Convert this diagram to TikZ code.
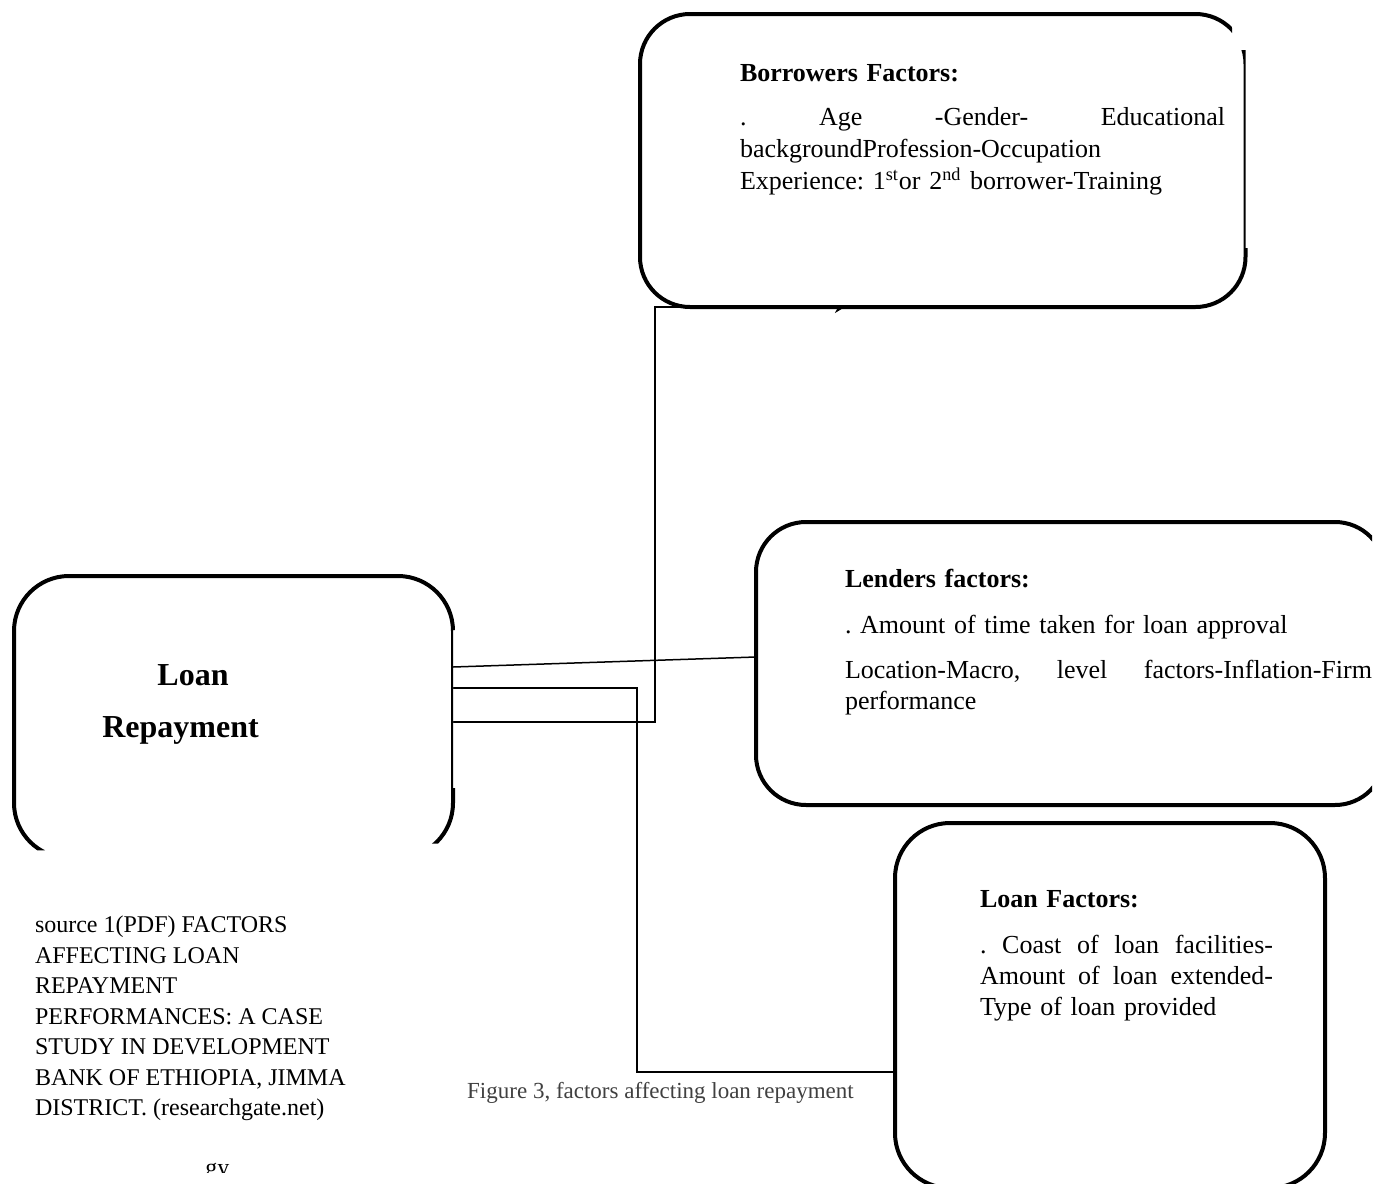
\documentclass[tikz,border=0pt]{standalone}
\usepackage{fontspec}
\setmainfont{Liberation Serif}
\usetikzlibrary{positioning,arrows.meta,backgrounds}
\tikzset{
    box/.style={draw,line width=2pt,fill=white,rounded corners=#1,outer sep=0pt,inner sep=0pt},
    box/.default=25pt,
    txt/.style={inner sep=0pt,outer sep=0pt,align=left,font=\fontsize{13pt}{16pt}\selectfont},
    link/.style={line width=0.75pt},
}
\begin{document}
\frenchspacing
\begin{tikzpicture}[x=0.5pt,y=-0.5pt]
    \useasboundingbox (0,0) rectangle (1389,1184);
    \begin{scope}
        \clip (0,560) -- (470,560) -- (470,630) -- (453,630) -- (453,788) -- (470,788) -- (470,843) -- (0,851) -- cycle;
        \node[box=27.5pt,minimum width=219.5pt,minimum height=141pt] (repay) at (233.5,717) {};
    \end{scope}
    \begin{scope}
        \clip (600,0) -- (1232,0) -- (1232,50) -- (1245.5,50) -- (1245.5,248) -- (1300,248) -- (1300,330) -- (600,330) -- cycle;
        \node[box,minimum width=302.75pt,minimum height=146.5pt] (borrower) at (942.75,160.5) {};
    \end{scope}
    \begin{scope}
        \clip (700,500) rectangle (1372,830);
        \node[box,minimum width=314.5pt,minimum height=141.5pt] (lender) at (1070.5,663.5) {};
    \end{scope}
    \node[box=27.5pt,minimum width=215pt,minimum height=182.5pt] (loanf) at (1110,1005.5) {};

    \node[txt,text width=242.5pt,below right=25pt and 50pt of borrower.north west] (btxt) {\textbf{Borrowers Factors:}\\[6pt]
        \makebox[242.5pt]{.\hfill Age\hfill -Gender-\hfill Educational}\\
        backgroundProfession-Occupation\\
        Experience: 1\textsuperscript{st}or 2\textsuperscript{nd} borrower-Training};
    \node[txt,text width=263.5pt,font=\fontsize{13pt}{15.5pt}\selectfont,below right=23.75pt and 44.5pt of lender.north west] (ltxt) {\textbf{Lenders factors:}\\[7.5pt]
        . Amount of time taken for loan approval\\[7pt]
        \makebox[263.5pt]{Location-Macro,\hfill level\hfill factors-Inflation-Firm}\\
        performance};
    \node[txt,text width=146.5pt,font=\fontsize{13pt}{15.5pt}\selectfont,below right=33.5pt and 42.5pt of loanf.north west] (ftxt) {\textbf{Loan Factors:}\\[7.5pt]
        \makebox[146.5pt]{.\hfill Coast\hfill of\hfill loan\hfill facilities-}\\
        \makebox[146.5pt]{Amount\hfill of\hfill loan\hfill extended-}\\
        Type of loan provided};
    \node[anchor=base,font=\fontsize{16pt}{19pt}\selectfont\bfseries] (loanlbl) at (193,685) {Loan};
    \node[anchor=base,font=\fontsize{16pt}{19pt}\selectfont\bfseries] (repaylbl) at (180.5,737) {Repayment};
    \node[txt,font=\fontsize{12pt}{15.25pt}\selectfont,below right=29pt and 10.5pt of repay.south west] (source) {source 1(PDF) FACTORS\\
        AFFECTING LOAN\\
        REPAYMENT\\
        PERFORMANCES: A CASE\\
        STUDY IN DEVELOPMENT\\
        BANK OF ETHIOPIA, JIMMA\\
        DISTRICT. (researchgate.net)};
    \node[font=\fontsize{11.5pt}{13pt}\selectfont,text=black!75] (caption) at (660.5,1093) {Figure 3, factors affecting loan repayment};
    \begin{scope}
        \clip (195,1160) rectangle (240,1172);
        \node[anchor=base west,inner sep=0pt,font=\fontsize{12pt}{14pt}\selectfont] (frag) at (205,1175) {gy};
    \end{scope}

    \begin{scope}[on background layer]
        \draw[link] ([yshift=25pt]repay.east) -- ([yshift=3.25pt]lender.west);
        \draw[link] ([yshift=14.5pt]repay.east) -- ++(184,0) |- ([yshift=-33.25pt]loanf.west);
        \draw[link,-{Stealth[length=5pt,width=6pt]}] ([yshift=-2.5pt]repay.east) -- ++(202,0) |- ([xshift=-48.9pt]borrower.south);
    \end{scope}
\end{tikzpicture}
\end{document}
